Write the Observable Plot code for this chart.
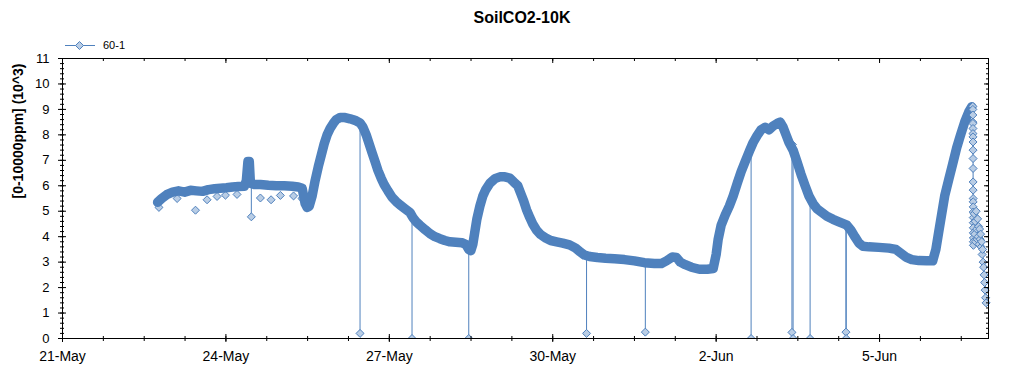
<!DOCTYPE html>
<html>
<head>
<meta charset="utf-8">
<script src="https://cdn.jsdelivr.net/npm/d3@7"></script>
<script src="https://cdn.jsdelivr.net/npm/@observablehq/plot@0.6"></script>
<style>
  html, body { margin: 0; padding: 0; background: #fff; }
  #wrap { position: relative; width: 1024px; height: 375px; overflow: hidden; font-family: "Liberation Sans", Arial, sans-serif; color: #000; }
  #title { position: absolute; left: 0; top: 9px; width: 1044px; text-align: center; font-weight: bold; font-size: 16px; line-height: 18px; }
  #legend { position: absolute; left: 65px; top: 38px; height: 14px; display: flex; align-items: center; font-size: 11px; }
  #legend svg { display: block; margin-right: 7px; }
  #chart { position: absolute; left: 0; top: 52px; }
</style>
</head>
<body>
<div id="wrap">
  <div id="title"></div>
  <div id="legend"></div>
  <div id="chart"></div>
</div>
<script>
// ---- text ----
const chartTitle = "SoilCO2-10K";
const seriesName = "60-1";
const yAxisLabel = "[0-10000ppm] (10^3)";

// ---- time base (hours elapsed since 21-May 00:00) ----
const startDate = Date.UTC(2019, 4, 21);
const totalHours = 408; // 21-May .. 7-Jun

// ---- main series (regular readings) ----
const mainHours = [
  41.9, 43.7, 45.9, 48.5, 51.1, 53.8, 56.4, 59.0, 61.7, 64.3, 67.0, 69.6, 72.2, 74.9, 77.5, 80.1,
  81.0, 81.7, 82.3, 82.8, 84.5, 87.2, 90.7, 94.2, 97.7, 101.2, 103.9, 105.6, 106.9, 107.8, 108.7,
  110.0, 111.3, 112.7, 114.0, 115.3, 116.6, 117.9, 119.3, 120.6, 122.3, 124.5, 126.7, 128.9, 131.1,
  132.4, 133.8, 135.1, 136.4, 137.7, 139.0, 140.4, 141.7, 143.4, 145.2, 147.0, 148.7, 150.9, 153.1,
  154.4, 155.7, 157.5, 159.7, 161.9, 164.1, 166.3, 168.5, 170.7, 173.3, 176.0, 177.7, 179.0, 179.9,
  180.8, 181.7, 182.6, 183.9, 185.2, 186.5, 188.3, 190.5, 192.7, 194.9, 197.1, 198.8, 200.6, 201.9,
  203.2, 204.5, 205.9, 207.2, 208.9, 210.7, 212.9, 215.1, 217.7, 220.4, 223.4, 226.1, 227.8, 230.0,
  232.2, 235.7, 239.3, 243.2, 247.6, 252.0, 256.4, 260.8, 263.9, 266.1, 268.7, 270.5, 272.2, 274.4,
  277.1, 280.6, 284.1, 286.7, 288.0, 288.9, 290.2, 292.0, 293.8, 295.5, 297.3, 299.0, 300.8, 302.6,
  304.3, 306.1, 307.8, 309.6, 311.3, 313.1, 314.9, 316.2, 317.5, 318.8, 320.1, 321.9, 323.6, 325.4,
  327.2, 328.9, 330.7, 332.4, 334.6, 336.8, 339.5, 342.1, 344.3, 345.6, 347.4, 349.1, 350.9, 352.7,
  355.3, 359.7, 364.1, 367.2, 369.4, 371.6, 374.2, 377.3, 380.8, 383.4, 384.8, 386.1, 387.4, 388.7,
  390.5, 392.2, 394.0, 395.7, 397.5, 399.3, 400.6
];
const mainValues = [
  5.35, 5.5, 5.65, 5.75, 5.8, 5.75, 5.82, 5.8, 5.78, 5.85, 5.88, 5.9, 5.92, 5.95, 5.97, 5.98,
  6.2, 6.95, 6.95, 6.1, 6.05, 6.05, 6.02, 6.0, 6.0, 5.98, 5.95, 5.9, 5.3, 5.15, 5.2,
  5.6, 6.2, 6.75, 7.2, 7.65, 8.0, 8.25, 8.45, 8.6, 8.68, 8.68, 8.63, 8.57, 8.47,
  8.3, 8.0, 7.65, 7.3, 6.95, 6.6, 6.3, 6.05, 5.8, 5.55, 5.38, 5.25, 5.1, 4.95,
  4.75, 4.6, 4.45, 4.28, 4.12, 4.0, 3.92, 3.85, 3.8, 3.78, 3.76, 3.7, 3.5, 3.45,
  3.7, 4.2, 4.7, 5.2, 5.6, 5.85, 6.1, 6.28, 6.35, 6.35, 6.3, 6.15, 6.0, 5.7,
  5.4, 5.05, 4.75, 4.5, 4.25, 4.08, 3.95, 3.85, 3.8, 3.75, 3.68, 3.55, 3.42, 3.28,
  3.22, 3.18, 3.15, 3.13, 3.1, 3.05, 2.98, 2.95, 2.95, 3.05, 3.2, 3.18, 3.0, 2.9,
  2.8, 2.72, 2.72, 2.75, 3.3, 3.9, 4.45, 4.85, 5.2, 5.6, 6.1, 6.55, 6.95, 7.35,
  7.7, 7.98, 8.2, 8.3, 8.2, 8.35, 8.45, 8.5, 8.3, 8.0, 7.7, 7.4, 6.95, 6.45,
  6.0, 5.6, 5.3, 5.1, 4.95, 4.8, 4.68, 4.58, 4.5, 4.45, 4.25, 4.0, 3.75, 3.62,
  3.6, 3.58, 3.55, 3.5, 3.35, 3.2, 3.1, 3.06, 3.05, 3.05, 3.5, 4.2, 4.9, 5.6,
  6.25, 6.85, 7.5, 8.0, 8.5, 8.9, 9.1
];

// ---- final drop and scattered tail (readings shown as separate markers) ----
const tailHours = [
  401.10, 401.11, 401.12, 401.13, 401.14, 401.15, 401.16, 401.17, 401.18, 401.19, 401.20, 401.21,
  401.22, 401.23, 401.24, 401.25, 401.26, 401.27, 401.28, 401.29, 401.30, 401.31, 401.32, 401.33, 401.34,
  401.67, 401.89, 402.11, 402.33, 402.55, 402.77, 402.99, 403.21, 403.43, 403.65, 403.87, 404.09,
  404.31, 404.53, 404.75, 404.97, 405.19, 405.41, 405.63, 405.85, 406.07, 406.29, 406.51, 406.73, 406.95
];
const tailValues = [
  9.12, 9.0, 8.78, 8.5, 8.45, 8.25, 8.05, 7.92, 7.72, 7.4, 7.07, 6.68,
  6.15, 5.83, 5.5, 5.37, 5.17, 4.97, 4.75, 4.55, 4.35, 4.15, 3.95, 3.8, 3.66,
  4.9, 4.1, 4.6, 3.8, 5.0, 4.3, 3.9, 4.7, 4.0, 4.4, 3.7, 4.3,
  3.9, 4.1, 3.6, 3.8, 3.3, 3.5, 3.0, 2.8, 2.5, 2.2, 1.9, 1.6, 1.4
];

// ---- isolated low readings off the band ----
const outlierHours  = [42.5, 50.5, 58.6, 63.7, 68.1, 71.8, 76.9, 87.2, 91.9, 96.0, 101.8, 105.5, 321.6];
const outlierValues = [5.15, 5.5, 5.04, 5.45, 5.58, 5.63, 5.66, 5.52, 5.45, 5.62, 5.6, 5.5, 7.62];

// ---- drop-outs (spikes towards zero) ----
const spikeHours  = [83.2, 131.1, 154.0, 179.0, 230.9, 256.8, 303.4, 321.4, 321.9, 329.4, 345.2, 345.3];
const spikeFrom   = [5.9, 8.45, 4.75, 3.5, 3.25, 2.97, 7.4, 7.5, 7.5, 5.45, 4.45, 4.45];
const spikeValues = [4.78, 0.2, 0, 0, 0.2, 0.25, 0, 0.24, 0, 0, 0.25, 0];

// ---- axis ticks ----
const yTickValues = [0, 1, 2, 3, 4, 5, 6, 7, 8, 9, 10, 11];
const yMinorStep = 0.2;
const xLabelHours = [0, 72, 144, 216, 288, 360]; // 21-May, 24-May, 27-May, 30-May, 2-Jun, 5-Jun
const xMinorStepHours = 18;

// ---- build ----
const toDate = h => new Date(startDate + h * 3600e3);
const main = mainHours.map((h, i) => ({t: toDate(h), v: mainValues[i]}));
const tail = tailHours.map((h, i) => ({t: toDate(h), v: tailValues[i]}));
const all = main.concat(tail);
const outliers = outlierHours.map((h, i) => ({t: toDate(h), v: outlierValues[i]}));
const spikes = spikeHours.map((h, i) => ({t: toDate(h), from: spikeFrom[i], v: spikeValues[i]}));

const yMinor = d3.range(0, 11.0001, yMinorStep).map(d => +d.toFixed(1));
const xMajor = xLabelHours.map(toDate);
const xMinor = d3.range(0, totalHours + 0.1, xMinorStepHours).map(toDate);
const fmt = d3.utcFormat("%-d-%b");

const W = 1024, H = 323, mt = 6, mb = 37, ml = 62, mr = 36;
const iw = W - ml - mr, ih = H - mt - mb;
const BLUE = "#4f81bd", LIGHT = "#b9cde5";

document.getElementById("title").textContent = chartTitle;
const leg = document.getElementById("legend");
leg.innerHTML = `<svg width="31" height="10" viewBox="0 0 31 10">
  <line x1="0" y1="5.5" x2="30" y2="5.5" stroke="${BLUE}" stroke-width="1"/>
  <path d="M14.5,1.5L18.5,5.5L14.5,9.5L10.5,5.5Z" fill="${LIGHT}" stroke="${BLUE}" stroke-width="1"/>
</svg><span></span>`;
leg.querySelector("span").textContent = seriesName;

const chart = Plot.plot({
  width: W, height: H,
  marginTop: mt, marginBottom: mb, marginLeft: ml, marginRight: mr,
  style: {fontFamily: "'Liberation Sans', Arial, sans-serif", fontSize: "13px", background: "white", color: "black", overflow: "visible"},
  x: {type: "utc", domain: [toDate(0), toDate(totalHours)], axis: null},
  y: {domain: [0, 11], axis: null},
  marks: [
    Plot.ruleX(spikes, {x: "t", y1: "from", y2: "v", stroke: BLUE, strokeWidth: 1}),
    Plot.line(all, {x: "t", y: "v", stroke: BLUE, strokeWidth: 1}),
    Plot.dot(outliers, {x: "t", y: "v", symbol: "diamond2", r: 3.6, fill: LIGHT, stroke: BLUE, strokeWidth: 1}),
    Plot.line(main, {x: "t", y: "v", stroke: BLUE, strokeWidth: 9.5, strokeLinejoin: "round", strokeLinecap: "round"}),
    Plot.dot(tail, {x: "t", y: "v", symbol: "diamond2", r: 3.6, fill: LIGHT, stroke: BLUE, strokeWidth: 1}),
    Plot.dot(spikes, {x: "t", y: "v", symbol: "diamond2", r: 3.6, fill: LIGHT, stroke: BLUE, strokeWidth: 1, clip: true}),
    Plot.frame({stroke: "black"}),
    // left axis ticks (crossing) and right axis ticks (inward)
    Plot.tickY(yTickValues, {y: d => d, stroke: "black", insetLeft: -4, insetRight: iw - 4}),
    Plot.tickY(yMinor, {y: d => d, stroke: "black", insetLeft: -2, insetRight: iw - 2}),
    Plot.tickY(yTickValues, {y: d => d, stroke: "black", insetLeft: iw - 4}),
    Plot.tickY(yMinor, {y: d => d, stroke: "black", insetLeft: iw - 2}),
    // bottom axis ticks (crossing) and top ticks (inward)
    Plot.tickX(xMajor, {x: d => d, stroke: "black", insetTop: ih - 4, insetBottom: -4}),
    Plot.tickX(xMinor, {x: d => d, stroke: "black", insetTop: ih - 2, insetBottom: -3}),
    Plot.tickX(xMajor, {x: d => d, stroke: "black", insetBottom: ih - 5}),
    Plot.tickX(xMinor, {x: d => d, stroke: "black", insetBottom: ih - 3}),
    // tick labels
    Plot.text(yTickValues, {y: d => d, text: d => String(d), frameAnchor: "left", textAnchor: "end", dx: -13, fontSize: 13}),
    Plot.text(xMajor, {x: d => d, text: d => fmt(d), frameAnchor: "bottom", lineAnchor: "top", dy: 13, fontSize: 14}),
    // y axis title
    Plot.text([yAxisLabel], {frameAnchor: "left", rotate: -90, dx: -44, fontWeight: "bold", fontSize: 14})
  ]
});
document.getElementById("chart").appendChild(chart);
</script>
</body>
</html>
